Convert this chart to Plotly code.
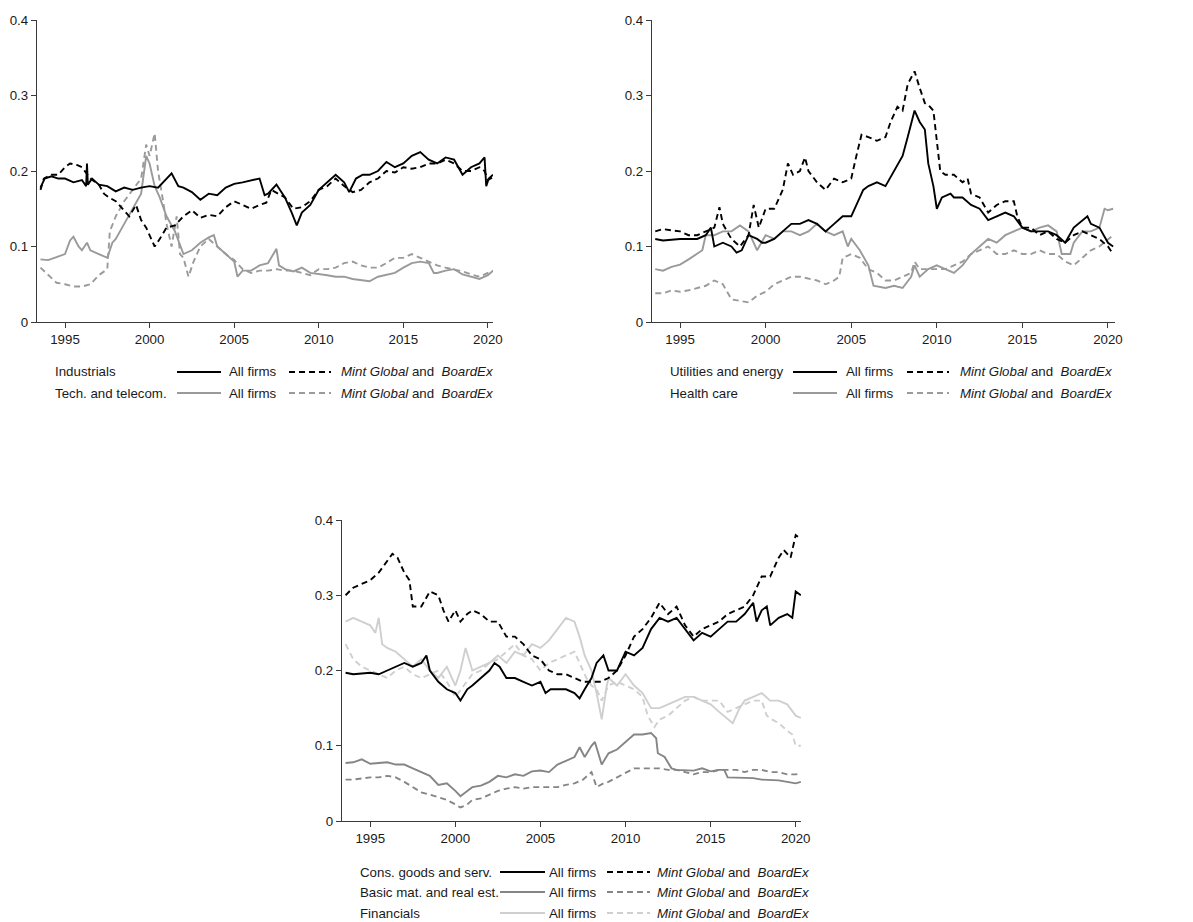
import plotly.graph_objects as go

# ---------------- data (decimal years, shares) ----------------
IND_ALL_X = [1993.55,1993.8,1994.2,1994.6,1995,1995.5,1996,1996.25,1996.3,1996.35,1996.6,1997,1997.5,1998,1998.5,1999,1999.5,2000,2000.5,2001,2001.3,2001.7,2002,2002.5,2003,2003.5,2004,2004.5,2005,2005.5,2006,2006.5,2006.8,2007,2007.5,2008,2008.4,2008.7,2009,2009.5,2010,2010.5,2011,2011.5,2011.8,2012.2,2012.6,2013,2013.5,2014,2014.5,2015,2015.5,2016,2016.5,2017,2017.5,2018,2018.5,2019,2019.5,2019.8,2019.9,2020.05,2020.3]
IND_ALL_Y = [.178,.19,.193,.19,.19,.185,.188,.18,.21,.182,.19,.182,.18,.173,.178,.175,.178,.18,.178,.19,.197,.18,.178,.172,.162,.17,.168,.178,.183,.185,.188,.19,.168,.17,.182,.165,.145,.128,.145,.155,.175,.185,.195,.185,.172,.19,.195,.195,.2,.212,.205,.21,.22,.225,.215,.21,.218,.215,.195,.205,.21,.218,.18,.19,.195]

IND_MG_X = [1993.55,1993.75,1994.2,1994.6,1995,1995.3,1995.7,1996,1996.5,1997,1997.3,1997.6,1998,1998.5,1998.8,1999.2,1999.5,1999.8,2000,2000.3,2000.6,2001,2001.5,2002,2002.5,2003,2003.5,2004,2004.5,2005,2005.5,2006,2006.5,2006.9,2007.2,2007.6,2008,2008.5,2009,2009.5,2010,2010.5,2011,2011.5,2012,2012.5,2013,2013.5,2014,2014.5,2015,2015.5,2016,2016.5,2017,2017.5,2018,2018.5,2019,2019.5,2019.8,2020,2020.3]
IND_MG_Y = [.175,.19,.195,.195,.205,.21,.208,.205,.19,.182,.17,.165,.16,.148,.14,.155,.135,.125,.115,.10,.11,.125,.128,.14,.148,.138,.142,.14,.152,.16,.155,.15,.155,.158,.175,.17,.165,.15,.152,.16,.175,.18,.19,.18,.172,.175,.185,.19,.2,.198,.205,.203,.205,.21,.21,.215,.21,.2,.2,.205,.2,.188,.192]

TECH_ALL_X = [1993.55,1994,1994.5,1995,1995.3,1995.5,1995.8,1996,1996.3,1996.5,1997,1997.5,1997.8,1998,1998.5,1999,1999.5,1999.8,2000,2000.3,2000.6,2001,2001.5,2002,2002.5,2003,2003.5,2003.8,2004,2004.5,2005,2005.2,2005.5,2006,2006.5,2007,2007.5,2007.65,2008,2008.5,2009,2009.5,2010,2010.5,2011,2011.5,2012,2012.5,2013,2013.5,2014,2014.5,2015,2015.5,2016,2016.5,2016.8,2017,2017.5,2018,2018.5,2019,2019.5,2020,2020.3]
TECH_ALL_Y = [.083,.082,.086,.09,.108,.113,.1,.095,.105,.095,.09,.085,.105,.11,.13,.15,.17,.22,.21,.18,.165,.14,.12,.09,.095,.105,.112,.115,.1,.09,.08,.06,.068,.068,.075,.078,.097,.075,.07,.067,.072,.065,.063,.062,.06,.06,.057,.055,.054,.06,.063,.065,.072,.078,.08,.078,.065,.065,.068,.07,.063,.06,.057,.062,.068]

TECH_MG_X = [1993.55,1994,1994.5,1995,1995.5,1996,1996.5,1997,1997.5,1997.65,1998,1998.5,1999,1999.5,1999.8,2000,2000.3,2000.5,2000.8,2001,2001.3,2001.6,2001.8,2002,2002.3,2002.6,2003,2003.5,2004,2004.5,2005,2005.5,2006,2006.5,2007,2007.5,2008,2008.5,2009,2009.5,2010,2010.5,2011,2011.5,2012,2012.5,2013,2013.5,2014,2014.5,2015,2015.5,2016,2016.5,2017,2017.5,2018,2018.5,2019,2019.5,2020,2020.3]
TECH_MG_Y = [.072,.062,.052,.05,.047,.047,.05,.062,.07,.12,.14,.16,.175,.19,.235,.22,.25,.2,.16,.13,.1,.14,.09,.085,.06,.08,.1,.11,.1,.09,.082,.07,.065,.068,.068,.07,.068,.068,.065,.062,.07,.07,.072,.078,.08,.075,.072,.072,.078,.085,.085,.09,.085,.08,.075,.072,.07,.067,.063,.06,.065,.068]

UTIL_ALL_X = [1993.55,1994,1995,1996,1996.5,1996.8,1997,1997.5,1998,1998.3,1998.6,1999,1999.5,1999.8,2000,2000.5,2001,2001.5,2002,2002.5,2003,2003.5,2004,2004.5,2005,2005.3,2005.7,2006,2006.5,2007,2007.5,2008,2008.3,2008.7,2009,2009.3,2009.5,2009.8,2010,2010.3,2010.8,2011,2011.5,2012,2012.5,2013,2013.5,2014,2014.5,2015,2015.5,2016,2016.5,2017,2017.5,2018,2018.5,2018.8,2019,2019.5,2020,2020.3]
UTIL_ALL_Y = [.11,.108,.11,.11,.115,.125,.1,.105,.1,.092,.095,.115,.11,.105,.105,.11,.12,.13,.13,.135,.13,.12,.13,.14,.14,.155,.175,.18,.185,.18,.2,.22,.245,.28,.265,.255,.21,.18,.15,.165,.17,.165,.165,.155,.15,.135,.14,.145,.14,.125,.12,.12,.12,.115,.105,.125,.135,.14,.13,.125,.105,.1]

UTIL_MG_X = [1993.55,1994,1995,1995.5,1996,1996.5,1997,1997.3,1997.5,1998,1998.5,1999,1999.3,1999.6,2000,2000.5,2001,2001.3,2001.6,2002,2002.3,2002.5,2003,2003.5,2004,2004.5,2005,2005.3,2005.6,2006,2006.5,2007,2007.3,2007.7,2008,2008.3,2008.7,2009,2009.3,2009.6,2009.8,2010,2010.2,2010.5,2011,2011.5,2011.8,2012,2012.5,2013,2013.5,2014,2014.5,2014.7,2015,2015.5,2016,2016.5,2017,2017.5,2018,2018.5,2019,2019.5,2020,2020.3]
UTIL_MG_Y = [.12,.123,.12,.115,.115,.12,.125,.152,.13,.11,.1,.115,.155,.125,.15,.15,.175,.21,.195,.2,.218,.2,.185,.175,.19,.185,.19,.22,.248,.245,.24,.245,.265,.285,.28,.315,.332,.31,.29,.285,.28,.24,.2,.195,.195,.185,.19,.17,.165,.145,.155,.16,.16,.14,.125,.125,.115,.12,.11,.105,.115,.12,.115,.11,.1,.09]

HEALTH_ALL_X = [1993.55,1994,1994.5,1995,1995.5,1996,1996.3,1996.5,1997,1997.5,1998,1998.5,1999,1999.5,2000,2000.5,2001,2001.5,2002,2002.5,2003,2003.5,2004,2004.5,2004.8,2005,2005.5,2006,2006.3,2007,2007.5,2008,2008.5,2008.7,2009,2009.5,2010,2010.5,2011,2011.5,2012,2012.5,2013,2013.5,2014,2014.5,2015,2015.5,2016,2016.5,2017,2017.3,2017.8,2018,2018.5,2019,2019.5,2019.8,2020,2020.3]
HEALTH_ALL_Y = [.07,.068,.073,.076,.083,.09,.095,.115,.115,.12,.12,.128,.12,.095,.115,.11,.12,.12,.115,.12,.13,.12,.115,.12,.1,.11,.095,.075,.048,.045,.048,.045,.06,.075,.06,.07,.075,.07,.065,.075,.09,.1,.11,.105,.115,.12,.125,.12,.125,.128,.12,.09,.09,.105,.12,.12,.125,.15,.148,.15]

HEALTH_MG_X = [1993.55,1994,1994.5,1995,1995.5,1996,1996.5,1997,1997.5,1998,1998.5,1999,1999.5,2000,2000.5,2001,2001.5,2002,2002.5,2003,2003.5,2004,2004.3,2004.5,2005,2005.5,2006,2006.5,2007,2007.5,2008,2008.5,2008.7,2009,2009.5,2010,2010.5,2011,2011.5,2012,2012.5,2013,2013.5,2014,2014.5,2015,2015.5,2016,2016.5,2017,2017.5,2018,2018.5,2019,2019.5,2020,2020.3]
HEALTH_MG_Y = [.038,.038,.042,.04,.042,.045,.048,.055,.05,.03,.028,.026,.035,.04,.05,.055,.06,.06,.058,.055,.05,.055,.06,.085,.09,.085,.07,.065,.055,.055,.06,.065,.08,.07,.07,.07,.07,.075,.08,.09,.095,.1,.09,.09,.095,.09,.09,.095,.09,.09,.08,.075,.085,.095,.1,.11,.115]

CONS_ALL_X = [1993.55,1994,1995,1995.5,1996,1996.5,1997,1997.5,1998,1998.3,1998.5,1999,1999.5,2000,2000.3,2000.7,2001,2001.5,2002,2002.3,2002.6,2003,2003.5,2004,2004.5,2005,2005.3,2005.6,2006,2006.5,2007,2007.3,2007.6,2008,2008.3,2008.7,2009,2009.5,2010,2010.5,2011,2011.5,2012,2012.5,2013,2013.5,2014,2014.5,2015,2015.5,2016,2016.5,2017,2017.5,2017.7,2018,2018.3,2018.5,2019,2019.5,2019.8,2020,2020.3]
CONS_ALL_Y = [.197,.195,.197,.195,.2,.205,.21,.205,.21,.22,.2,.185,.175,.17,.16,.175,.18,.19,.2,.21,.205,.19,.19,.185,.18,.185,.17,.175,.175,.175,.17,.163,.175,.19,.21,.22,.2,.2,.225,.22,.23,.255,.27,.265,.27,.255,.24,.25,.245,.255,.265,.265,.275,.29,.265,.28,.285,.26,.27,.275,.27,.305,.3]

CONS_MG_X = [1993.55,1994,1994.5,1995,1995.5,1996,1996.3,1996.6,1997,1997.3,1997.5,1998,1998.5,1999,1999.3,1999.6,2000,2000.3,2000.7,2001,2001.5,2002,2002.5,2003,2003.5,2004,2004.5,2005,2005.5,2006,2006.5,2007,2007.5,2008,2008.5,2009,2009.5,2010,2010.5,2011,2011.5,2012,2012.5,2013,2013.5,2014,2014.5,2015,2015.5,2016,2016.5,2017,2017.5,2018,2018.5,2019,2019.3,2019.7,2020,2020.3]
CONS_MG_Y = [.3,.31,.315,.32,.33,.345,.355,.35,.33,.32,.285,.285,.305,.3,.28,.265,.28,.265,.275,.28,.275,.265,.265,.245,.245,.235,.22,.215,.2,.195,.195,.19,.185,.185,.185,.19,.2,.22,.245,.255,.27,.29,.275,.285,.26,.245,.255,.26,.265,.275,.28,.285,.3,.325,.325,.35,.36,.35,.38,.375]

BASIC_ALL_X = [1993.55,1994,1994.5,1995,1995.5,1996,1996.5,1997,1997.5,1998,1998.5,1999,1999.5,2000,2000.3,2000.7,2001,2001.5,2002,2002.5,2003,2003.5,2004,2004.5,2005,2005.5,2006,2006.5,2007,2007.3,2007.6,2008,2008.2,2008.6,2009,2009.5,2010,2010.5,2011,2011.5,2011.8,2011.9,2012.3,2012.7,2013,2014,2014.5,2015,2015.5,2015.8,2016,2016.5,2017,2017.5,2018,2019,2019.5,2020,2020.3]
BASIC_ALL_Y = [.077,.078,.082,.076,.077,.078,.075,.075,.07,.065,.06,.048,.05,.04,.033,.04,.045,.047,.052,.06,.058,.062,.06,.066,.067,.065,.075,.08,.085,.098,.085,.1,.105,.075,.09,.095,.105,.115,.115,.117,.11,.09,.085,.07,.068,.067,.07,.066,.068,.068,.058,.058,.057,.057,.055,.054,.052,.05,.052]

BASIC_MG_X = [1993.55,1994,1995,1995.5,1996,1996.5,1997,1997.5,1998,1998.5,1999,1999.5,2000,2000.3,2000.7,2001,2001.5,2002,2002.5,2003,2003.5,2004,2004.5,2005,2005.5,2006,2006.5,2007,2007.5,2008,2008.3,2008.7,2009,2009.5,2010,2010.5,2011,2011.5,2012,2012.5,2013,2013.5,2014,2014.5,2015,2015.5,2016,2016.5,2017,2017.5,2018,2018.5,2019,2019.5,2020,2020.3]
BASIC_MG_Y = [.055,.055,.058,.058,.06,.058,.052,.045,.038,.035,.032,.028,.022,.018,.022,.028,.03,.035,.04,.043,.045,.043,.045,.045,.045,.045,.048,.05,.055,.065,.045,.05,.052,.058,.065,.07,.07,.07,.07,.068,.068,.065,.062,.065,.065,.068,.068,.068,.065,.068,.068,.065,.065,.062,.062,.063]

FIN_ALL_X = [1993.55,1994,1994.5,1995,1995.3,1995.5,1995.7,1996,1996.5,1997,1997.5,1998,1998.5,1999,1999.5,2000,2000.3,2000.6,2001,2001.5,2002,2002.5,2003,2003.5,2004,2004.5,2005,2005.5,2006,2006.5,2007,2007.3,2007.6,2008,2008.3,2008.6,2008.9,2009,2009.5,2010,2010.5,2011,2011.5,2012,2012.5,2013,2013.5,2014,2014.5,2015,2015.5,2016,2016.3,2016.7,2017,2017.5,2018,2018.5,2019,2019.5,2020,2020.3]
FIN_ALL_Y = [.265,.27,.265,.26,.25,.27,.235,.23,.225,.215,.205,.215,.2,.19,.205,.18,.2,.23,.2,.205,.21,.22,.21,.225,.22,.235,.23,.24,.255,.27,.265,.245,.22,.2,.17,.135,.18,.19,.18,.195,.18,.17,.15,.15,.155,.16,.165,.165,.16,.155,.145,.135,.13,.15,.16,.165,.17,.16,.16,.155,.14,.137]

FIN_MG_X = [1993.55,1994,1994.5,1995,1995.5,1996,1996.5,1997,1997.5,1998,1998.5,1999,1999.5,2000,2000.5,2001,2001.5,2002,2002.5,2003,2003.5,2004,2004.5,2005,2005.5,2006,2006.5,2007,2007.3,2007.7,2008,2008.3,2008.6,2009,2009.5,2010,2010.5,2011,2011.3,2011.7,2012,2012.5,2013,2013.5,2014,2014.5,2015,2015.5,2016,2016.5,2017,2017.5,2018,2018.3,2018.6,2019,2019.5,2019.8,2020,2020.3]
FIN_MG_Y = [.235,.215,.205,.2,.195,.19,.2,.205,.195,.19,.195,.2,.185,.165,.18,.195,.2,.21,.215,.225,.235,.22,.215,.2,.21,.215,.22,.225,.21,.19,.18,.175,.16,.18,.185,.18,.175,.165,.14,.125,.135,.14,.15,.16,.165,.16,.16,.16,.145,.15,.155,.16,.16,.14,.135,.13,.12,.115,.1,.1]

X_TICKS = [1995, 2000, 2005, 2010, 2015, 2020]
Y_TICKS = [0, 0.1, 0.2, 0.3, 0.4]
Y_TICK_LABELS = ["0", "0.1", "0.2", "0.3", "0.4"]

PANEL1_ROWS = ["Industrials", "Tech. and telecom."]
PANEL2_ROWS = ["Utilities and energy", "Health care"]
PANEL3_ROWS = ["Cons. goods and serv.", "Basic mat. and real est.", "Financials"]
LABEL_ALL = "All firms"
LABEL_MG = "<i>Mint Global</i> and \u00a0<i>BoardEx</i>"

# ---------------- styles ----------------
W, H = 1193, 922
BLACK = "#000000"
GRAY = "#9a9a9a"
MIDGRAY = "#858585"
LIGHT = "#cfcfcf"
DASH = "6px,4px"
FONT = "Liberation Sans, Arial, sans-serif"
FS = 13.3
TXT = "#1a1a1a"

for xs, ys in [(IND_ALL_X, IND_ALL_Y), (IND_MG_X, IND_MG_Y), (TECH_ALL_X, TECH_ALL_Y), (TECH_MG_X, TECH_MG_Y),
               (UTIL_ALL_X, UTIL_ALL_Y), (UTIL_MG_X, UTIL_MG_Y), (HEALTH_ALL_X, HEALTH_ALL_Y), (HEALTH_MG_X, HEALTH_MG_Y),
               (CONS_ALL_X, CONS_ALL_Y), (CONS_MG_X, CONS_MG_Y), (BASIC_ALL_X, BASIC_ALL_Y), (BASIC_MG_X, BASIC_MG_Y),
               (FIN_ALL_X, FIN_ALL_Y), (FIN_MG_X, FIN_MG_Y)]:
    assert len(xs) == len(ys), (len(xs), len(ys), xs[0])

fig = go.Figure()


def add(xs, ys, color, dashed, n):
    fig.add_trace(go.Scatter(
        x=xs, y=ys, mode="lines",
        line=dict(color=color, width=1.9, dash=DASH if dashed else "solid"),
        xaxis="x" if n == 1 else f"x{n}", yaxis="y" if n == 1 else f"y{n}",
        showlegend=False, hoverinfo="skip"))


# panel 1
add(TECH_MG_X, TECH_MG_Y, GRAY, True, 1)
add(TECH_ALL_X, TECH_ALL_Y, GRAY, False, 1)
add(IND_MG_X, IND_MG_Y, BLACK, True, 1)
add(IND_ALL_X, IND_ALL_Y, BLACK, False, 1)
# panel 2
add(HEALTH_MG_X, HEALTH_MG_Y, GRAY, True, 2)
add(HEALTH_ALL_X, HEALTH_ALL_Y, GRAY, False, 2)
add(UTIL_MG_X, UTIL_MG_Y, BLACK, True, 2)
add(UTIL_ALL_X, UTIL_ALL_Y, BLACK, False, 2)
# panel 3
add(FIN_MG_X, FIN_MG_Y, LIGHT, True, 3)
add(FIN_ALL_X, FIN_ALL_Y, LIGHT, False, 3)
add(BASIC_MG_X, BASIC_MG_Y, MIDGRAY, True, 3)
add(BASIC_ALL_X, BASIC_ALL_Y, MIDGRAY, False, 3)
add(CONS_MG_X, CONS_MG_Y, BLACK, True, 3)
add(CONS_ALL_X, CONS_ALL_Y, BLACK, False, 3)


def px(x):
    return x / W


def py(y):
    return 1 - y / H


def xaxis(left, right, rng, anchor):
    return dict(domain=[px(left), px(right)], range=rng, showline=True, linecolor="#3a3a3a", linewidth=1.3,
                ticks="outside", ticklen=5, tickwidth=1.3, tickcolor="#3a3a3a", tickvals=X_TICKS,
                showgrid=False, zeroline=False, automargin=False, anchor=anchor, fixedrange=True,
                tickfont=dict(family=FONT, size=FS, color=TXT))


def yaxis(top, bottom, anchor):
    return dict(domain=[py(bottom), py(top)], range=[0, 0.4], showline=True, linecolor="#3a3a3a", linewidth=1.3,
                ticks="outside", ticklen=5, tickwidth=1.3, tickcolor="#3a3a3a", tickvals=Y_TICKS,
                ticktext=Y_TICK_LABELS, showgrid=False, zeroline=False, anchor=anchor, automargin=False,
                fixedrange=True, tickfont=dict(family=FONT, size=FS, color=TXT))


shapes = []
annotations = []


def legend(rows, colors, ypix, xl, xs0, xs1, xa, xd0, xd1, xm):
    for name, col, yy in zip(rows, colors, ypix):
        annotations.append(dict(x=px(xl), y=py(yy), xref="paper", yref="paper", text=name, showarrow=False,
                                xanchor="left", yanchor="middle", font=dict(family=FONT, size=FS, color=TXT)))
        shapes.append(dict(type="line", xref="paper", yref="paper", x0=px(xs0), x1=px(xs1), y0=py(yy), y1=py(yy),
                           line=dict(color=col, width=2)))
        annotations.append(dict(x=px(xa), y=py(yy), xref="paper", yref="paper", text=LABEL_ALL, showarrow=False,
                                xanchor="left", yanchor="middle", font=dict(family=FONT, size=FS, color=TXT)))
        shapes.append(dict(type="line", xref="paper", yref="paper", x0=px(xd0), x1=px(xd1), y0=py(yy), y1=py(yy),
                           line=dict(color=col, width=2, dash=DASH)))
        annotations.append(dict(x=px(xm), y=py(yy), xref="paper", yref="paper", text=LABEL_MG, showarrow=False,
                                xanchor="left", yanchor="middle", font=dict(family=FONT, size=FS, color=TXT)))


legend(PANEL1_ROWS, [BLACK, GRAY], [372, 393], 53, 177, 221, 227, 289, 331, 339)
legend(PANEL2_ROWS, [BLACK, GRAY], [372, 393], 668, 793, 837, 844, 907, 949, 958)
legend(PANEL3_ROWS, [BLACK, MIDGRAY, LIGHT], [872, 892, 913], 358, 500, 545, 547, 607, 650, 655)

fig.update_layout(
    width=W, height=H, margin=dict(l=0, r=0, t=0, b=0, pad=0), autosize=False,
    paper_bgcolor="white", plot_bgcolor="white", showlegend=False,
    xaxis=xaxis(37, 493, [1993.345, 2020.3], "y"),
    yaxis=yaxis(20, 322, "x"),
    xaxis2=xaxis(652, 1115, [1993.36, 2020.41], "y2"),
    yaxis2=yaxis(20, 322, "x2"),
    xaxis3=xaxis(342, 801, [1993.34, 2020.31], "y3"),
    yaxis3=yaxis(520, 821, "x3"),
    shapes=shapes, annotations=annotations,
)

fig.write_html("out.html", config={"displayModeBar": False},
               post_script="document.body.style.margin='0';document.body.style.overflow='hidden';")
